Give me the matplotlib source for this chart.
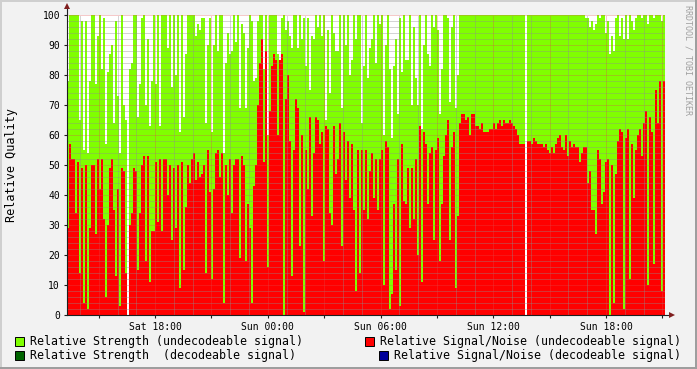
import numpy as np
import matplotlib
matplotlib.use("Agg")
import matplotlib.pyplot as plt
from matplotlib.patches import Rectangle

nan = np.nan

# Relative Strength (undecodeable signal), one value per sample
strength = [
    78, 100, 100, 100, 100, 100, 65, 98, 55, 98, 54, 78, 100, 100, 77, 93, 100, 82, 99, 57,
    81, 87, 90, 64, 98, 73, 54, 100, 70, 65, nan, 82, 84, 100, 100, 66, 77, 99, 100, 70,
    92, 63, 78, 100, 77, 100, 63, 100, 100, 100,
    89, 100, 76, 100, 80, 100, 61, 100, 66, 87, 100, 100, 100, 100, 93, 97, 95, 99, 99, 64,
    90, 99, 61, 90, 100, 88, 100, 100, 54, 84, 94, 87, 88, 100, 91, 100, 69, 97, 94, 69,
    89, 100, 98, 78, 79, 98, 100, 100, 82, 100,
    60, 100, 100, 100, 100, 87, 85, 99, 100, 95, 98, 93, 89, 100, 100, 89, 100, 92, 99, 83,
    99, 75, 93, 92, 100, 96, 100, 93, 100, 65, 95, 74, 100, 94, 88, 88, 100, 69, 100, 90,
    100, 80, 85, 100, 92, 100, 100, 64, 83, 100,
    79, 89, 92, 100, 84, 100, 97, 100, 60, 90, 100, 82, 59, 83, 92, 67, 99, 81, 100, 85,
    85, 100, 70, 96, 79, 70, 100, 62, 90, 100, 87, 83, 100, 96, 100, 95, 67, 82, 100, 100,
    99, 71, 96, 100, 69, 80, 100, 100, 100, 100,
    100, 100, 100, 100, 100, 100, 100, 100, 100, 100, 100, 100, 100, 100, 100, 100, 100, 100, 100, 100,
    100, 100, 100, 100, 100, 100, 100, 100, 100, nan, 100, 100, 100, 100, 100, 100, 100, 100, 100, 100,
    100, 100, 100, 100, 100, 100, 100, 100, 100, 100,
    100, 100, 100, 100, 100, 100, 100, 100, 100, 99, 99, 96, 98, 95, 97, 100, 99, 100, 100, 94,
    98, 87, 93, 88, 99, 100, 93, 99, 92, 100, 92, 100, 98, 95, 99, 100, 100, 99, 100, 100,
    97, 100, 100, 99, 100, 100, 100, 98, 100,
]

# Relative Signal/Noise (undecodeable signal)
snr = [
    29, 57, 52, 52, 34, 51, 14, 49, 4, 50, 2, 29, 50, 50, 27, 52, 42, 52, 32, 6,
    30, 49, 52, 35, 13, 42, 3, 49, 48, 14, nan, 30, 34, 49, 48, 15, 34, 50, 53, 18,
    53, 11, 28, 28, 51, 31, 52, 28, 52, 52,
    40, 50, 25, 49, 29, 50, 9, 51, 15, 36, 50, 44, 52, 54, 45, 51, 46, 47, 50, 14,
    55, 41, 12, 42, 54, 55, 46, 54, 4, 50, 40, 52, 34, 50, 52, 52, 19, 53, 50, 18,
    37, 29, 4, 43, 50, 70, 84, 92, 51, 88,
    16, 68, 83, 87, 85, 60, 85, 87, 0, 72, 80, 58, 13, 55, 72, 69, 23, 60, 1, 55,
    42, 66, 33, 54, 66, 65, 57, 61, 18, 63, 62, 34, 30, 63, 47, 52, 64, 23, 61, 45,
    58, 39, 57, 35, 8, 55, 14, 55, 35, 55,
    32, 48, 54, 39, 52, 35, 52, 55, 10, 58, 56, 2, 7, 37, 15, 52, 3, 57, 38, 37,
    49, 29, 49, 32, 52, 20, 63, 11, 61, 57, 37, 54, 56, 25, 55, 59, 18, 37, 53, 60,
    65, 25, 56, 61, 9, 33, 64, 67, 67, 65,
    66, 60, 67, 67, 63, 63, 62, 64, 61, 61, 61, 62, 62, 64, 62, 64, 65, 63, 65, 64,
    64, 65, 64, 63, 62, 60, 57, 57, 57, nan, 58, 58, 57, 59, 58, 57, 57, 57, 56, 57,
    55, 54, 56, 54, 57, 59, 60, 56, 55, 60,
    53, 58, 56, 57, 56, 56, 51, 54, 56, 56, 44, 48, 35, 35, 27, 55, 52, 37, 41, 51,
    52, 0, 50, 4, 47, 58, 62, 61, 2, 59, 62, 12, 57, 39, 55, 60, 62, 53, 64, 68,
    10, 66, 61, 17, 75, 64, 78, 8, 78,
]

# time axis (hours since Saturday 00:00)
start_hour = 13.311
step_hour = 0.10644
tick_hours = [18, 24, 30, 36, 42]
tick_labels = ["Sat 18:00", "Sun 00:00", "Sun 06:00", "Sun 12:00", "Sun 18:00"]
ytick_values = list(range(0, 101, 10))

legend_labels = [
    "Relative Strength (undecodeable signal)",
    "Relative Signal/Noise (undecodeable signal)",
    "Relative Strength  (decodeable signal)",
    "Relative Signal/Noise (decodeable signal)",
]
legend_colors = ["#80FF00", "#FF0000", "#006400", "#000099"]

W, H = 697, 369
fig = plt.figure(figsize=(W / 100, H / 100), dpi=100)
fig.patch.set_facecolor("#F2F2F2")

# 3D frame shading
def px_rect(x, y, w, h, color, z=0):
    fig.patches.append(Rectangle((x / W, 1 - (y + h) / H), w / W, h / H,
                                 transform=fig.transFigure, color=color, zorder=z, lw=0))

px_rect(0, 0, W, 2, "#CFCFCF")
px_rect(0, 0, 2, H, "#CFCFCF")
px_rect(0, H - 2, W, 2, "#9E9E9E")
px_rect(W - 2, 0, 2, H, "#9E9E9E")

L, R, T, B = 67, 665, 15, 315
ax = fig.add_axes([L / W, 1 - B / H, (R - L) / W, (B - T) / H])
ax.set_facecolor("white")

n = len(strength)
x = start_hour + step_hour * np.arange(n)
end_hour = start_hour + step_hour * n

ax.bar(x, strength, width=step_hour, align="edge", color=legend_colors[0],
       linewidth=0, antialiased=False, zorder=1)
ax.bar(x, snr, width=step_hour, align="edge", color=legend_colors[1],
       linewidth=0, antialiased=False, zorder=2)

ax.set_xlim(start_hour, end_hour)
ax.set_ylim(0, 100)

grid_col = (0.56, 0.56, 0.56, 0.75)
mgrid_col = (0.87, 0.31, 0.31, 0.6)
dash = dict(linestyle=(0, (1, 1)), linewidth=0.72)

# horizontal grid
for v in range(2, 101, 2):
    if v % 10 == 0:
        continue
    ax.axhline(v, color=grid_col, zorder=3, **dash)
for v in range(10, 101, 10):
    ax.axhline(v, color=mgrid_col, zorder=3, **dash)
# vertical grid: minor every hour, major every 3 hours
h0 = int(np.ceil(start_hour))
for hh in range(h0, int(end_hour) + 1):
    if hh % 3 == 0:
        ax.axvline(hh, color=mgrid_col, zorder=3, **dash)
    else:
        ax.axvline(hh, color=grid_col, zorder=3, **dash)

for s in ax.spines.values():
    s.set_visible(False)

ax.set_xticks(tick_hours)
ax.set_xticklabels(tick_labels)
ax.set_xticks([hh for hh in range(h0, int(end_hour) + 1) if hh % 3 == 0], minor=True)
ax.set_yticks(ytick_values)
ax.set_yticklabels([str(v) for v in ytick_values])
ax.tick_params(axis="both", which="both", length=2, width=0.8, color=(0.12, 0.12, 0.12),
               direction="out", labelsize=7)
ax.tick_params(axis="x", pad=3)
ax.tick_params(axis="y", pad=3)
for lab in ax.get_xticklabels() + ax.get_yticklabels():
    lab.set_fontfamily("DejaVu Sans Mono")

# axes lines with arrows
axis_col = (0.12, 0.12, 0.12)
arrow_col = (0.5, 0.12, 0.12)
ax.plot([0, 0], [0, 1.02], transform=ax.transAxes, color=axis_col, lw=0.8,
        clip_on=False, zorder=5)
ax.plot([0, 1.008], [0, 0], transform=ax.transAxes, color=axis_col, lw=0.8,
        clip_on=False, zorder=5)
ax.plot([0], [1.03], marker="^", markersize=5, color=arrow_col, transform=ax.transAxes,
        clip_on=False, zorder=6, markeredgewidth=0)
ax.plot([1.012], [0], marker=">", markersize=5, color=arrow_col, transform=ax.transAxes,
        clip_on=False, zorder=6, markeredgewidth=0)

mono = "DejaVu Sans Mono"
fig.text(12 / W, 1 - 165 / H, "Relative Quality", rotation=90, ha="center", va="center",
         fontsize=8.5, family=mono)
fig.text(688 / W, 1 - 60 / H, "RRDTOOL / TOBI OETIKER", rotation=270, ha="center",
         va="center", fontsize=6, family=mono, color="#A0A0A0")

# legend
rows_y = [341, 355]
fs = 8.4
def swatch(xp, yc, color):
    fig.patches.append(Rectangle((xp / W, 1 - (yc + 4.5) / H), 9 / W, 9 / H,
                                 transform=fig.transFigure, facecolor=color,
                                 edgecolor="black", lw=0.7, zorder=5))

swatch(15, rows_y[0], legend_colors[0])
fig.text(30 / W, 1 - rows_y[0] / H, legend_labels[0], ha="left", va="center",
         fontsize=fs, family=mono)
swatch(15, rows_y[1], legend_colors[2])
fig.text(30 / W, 1 - rows_y[1] / H, legend_labels[2], ha="left", va="center",
         fontsize=fs, family=mono)
swatch(365, rows_y[0], legend_colors[1])
fig.text(681 / W, 1 - rows_y[0] / H, legend_labels[1], ha="right", va="center",
         fontsize=fs, family=mono)
swatch(379, rows_y[1], legend_colors[3])
fig.text(681 / W, 1 - rows_y[1] / H, legend_labels[3], ha="right", va="center",
         fontsize=fs, family=mono)

fig.savefig("out.png", dpi=100, facecolor=fig.get_facecolor())
